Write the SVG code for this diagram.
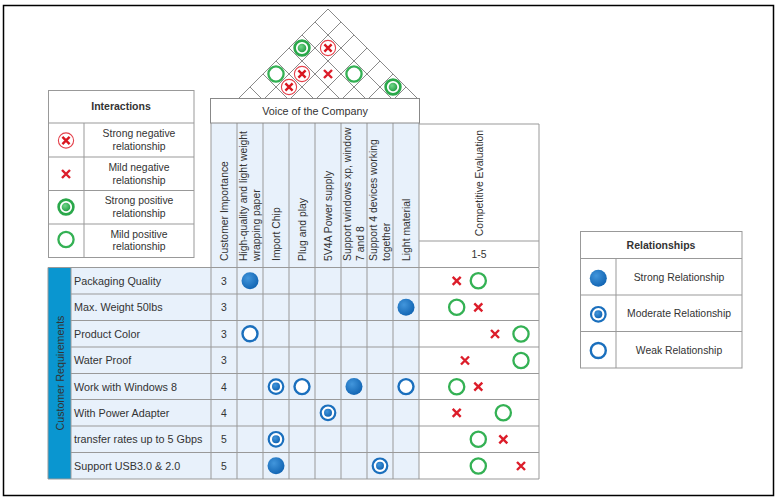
<svg xmlns="http://www.w3.org/2000/svg" width="777" height="499" viewBox="0 0 777 499">
<style>
text{font-family:"Liberation Sans",Arial,sans-serif;font-size:10.4px;fill:#333}
.b{font-weight:bold;font-size:10.5px}
.c{text-anchor:middle}
.rl{font-size:10.8px}
.g{stroke:#999;stroke-width:1;fill:none}
.rf{stroke:#8a8a8a;stroke-width:1;fill:none}
.cell{fill:#e8f1fb}
.wh{fill:#fff}
</style>
<defs>
<radialGradient id="gb" cx="0.38" cy="0.35" r="0.75"><stop offset="0" stop-color="#4296dc"/><stop offset="1" stop-color="#0c5fae"/></radialGradient>
<radialGradient id="gg" cx="0.38" cy="0.35" r="0.75"><stop offset="0" stop-color="#72d68a"/><stop offset="1" stop-color="#1c9a3e"/></radialGradient>
<g id="sRel"><circle r="8.5" fill="url(#gb)"/></g>
<g id="mRel"><circle r="7.3" fill="#fff" stroke="#1a6fbd" stroke-width="2.2"/><circle r="4" fill="url(#gb)"/></g>
<g id="wRel"><circle r="7.5" fill="#fff" stroke="#1a6fbd" stroke-width="2.4"/></g>
<g id="sPos"><circle r="7.4" fill="#fff" stroke="#2aa84a" stroke-width="2.6"/><circle r="4.3" fill="url(#gg)"/></g>
<g id="mPos"><circle r="7.6" fill="#fff" stroke="#34b154" stroke-width="2.3"/></g>
<g id="mNeg"><path d="M-4,-4L4,4M4,-4L-4,4" stroke="#dc1d2a" stroke-width="2.4" fill="none"/></g>
<g id="sNeg"><circle r="7.6" fill="#fff" stroke="#e4414b" stroke-width="1.1"/><path d="M-3.6,-3.6L3.6,3.6M3.6,-3.6L-3.6,3.6" stroke="#d9161f" stroke-width="2.4" fill="none"/></g>
</defs>

<rect id="frame" x="3.5" y="5.5" width="770" height="490" fill="#fff" stroke="#000" stroke-width="1.5"/>

<!-- Roof -->
<g id="roof">
<polygon points="237,100 328,9 419,100" fill="#fff" stroke="#8a8a8a" stroke-width="1"/>
<path class="rf" d="M263,100L341,22M289,100L354,35M315,100L367,48M341,100L380,61M367,100L393,74M393,100L406,87M263,100L250,87M289,100L263,74M315,100L276,61M341,100L289,48M367,100L302,35M393,100L315,22"/>
<use href="#sNeg" x="289" y="87"/>
<use href="#sPos" x="393" y="87"/>
<use href="#mPos" x="276" y="74"/>
<use href="#sNeg" x="302" y="74"/>
<use href="#mNeg" x="328" y="74"/>
<use href="#mPos" x="354" y="74"/>
<use href="#sPos" x="302" y="48"/>
<use href="#sNeg" x="328" y="48"/>
</g>

<!-- Column header area -->
<g id="headers">
<rect class="cell" x="211" y="123" width="208" height="144"/>
<rect class="wh" x="419" y="124" width="120" height="143"/>
<path class="g" d="M419,124H539V267M419,241H539"/>
<path class="g" d="M211,123V267M237,123V267M263,123V267M289,123V267M315,123V267M341,123V267M367,123V267M393,123V267M419,123V267"/>
<text transform="translate(228,261) rotate(-90)">Customer Importance</text>
<text transform="translate(246.5,261) rotate(-90)">High-quality and light weight</text>
<text transform="translate(259.5,261) rotate(-90)">wrapping paper</text>
<text transform="translate(280,261) rotate(-90)">Import Chip</text>
<text transform="translate(306,261) rotate(-90)">Plug and play</text>
<text transform="translate(332,261) rotate(-90)">5V4A Power supply</text>
<text transform="translate(350.5,261) rotate(-90)">Support windows xp, window</text>
<text transform="translate(363.5,261) rotate(-90)">7 and 8</text>
<text transform="translate(376.5,261) rotate(-90)">Support 4 devices working</text>
<text transform="translate(389.5,261) rotate(-90)">together</text>
<text transform="translate(410,261) rotate(-90)">Light material</text>
<text class="c" transform="translate(483,183) rotate(-90)">Competitive Evaluation</text>
<text class="c" x="479" y="258">1-5</text>
</g>

<g id="voice">
<rect x="210.5" y="98.5" width="209" height="24.5" fill="#fff" stroke="#888" stroke-width="1"/>
<text class="c" x="315" y="115" style="font-size:10.8px">Voice of the Company</text>
</g>

<!-- Main table -->
<g id="table">
<rect x="48" y="267.5" width="23" height="211.5" fill="#0a96d0"/>
<rect class="cell" x="71" y="267.5" width="348" height="211.5"/>
<rect class="wh" x="419" y="267.5" width="120" height="211.5"/>
<path class="g" d="M48,267.5H539M71,294H539M71,320.5H539M71,347H539M71,373.5H539M71,399.5H539M71,426H539M71,452.5H539M48,479H539M48,267.5V479M71,267.5V479M211,267.5V479M237,267.5V479M263,267.5V479M289,267.5V479M315,267.5V479M341,267.5V479M367,267.5V479M393,267.5V479M419,267.5V479M539,267.5V479"/>
<text class="c" transform="translate(63.5,373) rotate(-90)" style="font-size:10.6px">Customer Requirements</text>
<g class="rl">
<text class="rl" x="74" y="284.8">Packaging Quality</text>
<text class="rl" x="74" y="311.3">Max. Weight 50lbs</text>
<text class="rl" x="74" y="337.8">Product Color</text>
<text class="rl" x="74" y="364.3">Water Proof</text>
<text class="rl" x="74" y="390.5">Work with Windows 8</text>
<text class="rl" x="74" y="416.8">With Power Adapter</text>
<text class="rl" x="74" y="443.3">transfer rates up to 5 Gbps</text>
<text class="rl" x="74" y="469.8">Support USB3.0 &amp; 2.0</text>
</g>
<text class="c" x="224" y="284.8">3</text>
<text class="c" x="224" y="311.3">3</text>
<text class="c" x="224" y="337.8">3</text>
<text class="c" x="224" y="364.3">3</text>
<text class="c" x="224" y="390.5">4</text>
<text class="c" x="224" y="416.8">4</text>
<text class="c" x="224" y="443.3">5</text>
<text class="c" x="224" y="469.8">5</text>
<!-- relationships -->
<use href="#sRel" x="250" y="280.8"/>
<use href="#sRel" x="406" y="307.3"/>
<use href="#wRel" x="250" y="333.8"/>
<use href="#mRel" x="276" y="386.6"/>
<use href="#wRel" x="302" y="386.6"/>
<use href="#sRel" x="354" y="386.6"/>
<use href="#wRel" x="406" y="386.6"/>
<use href="#mRel" x="328" y="412.8"/>
<use href="#mRel" x="276" y="439.3"/>
<use href="#sRel" x="276" y="465.8"/>
<use href="#mRel" x="380" y="465.8"/>
<!-- competitive evaluation -->
<use href="#mNeg" x="456.7" y="280.8"/>
<use href="#mPos" x="478.3" y="280.8"/>
<use href="#mPos" x="456.7" y="307.3"/>
<use href="#mNeg" x="478.3" y="307.3"/>
<use href="#mNeg" x="495" y="334"/>
<use href="#mPos" x="521" y="334"/>
<use href="#mNeg" x="465" y="360.5"/>
<use href="#mPos" x="521" y="360.5"/>
<use href="#mPos" x="456.7" y="386.7"/>
<use href="#mNeg" x="478.3" y="386.7"/>
<use href="#mNeg" x="456.7" y="412.8"/>
<use href="#mPos" x="503.3" y="412.8"/>
<use href="#mPos" x="478.3" y="439.3"/>
<use href="#mNeg" x="503.3" y="439.3"/>
<use href="#mPos" x="478.3" y="466"/>
<use href="#mNeg" x="521" y="466"/>
</g>

<!-- Interactions legend -->
<g id="legend-interactions">
<rect x="48.5" y="90.5" width="145.5" height="167" fill="#fff" stroke="#999" stroke-width="1"/>
<path class="g" d="M48.5,123H194M48.5,157H194M48.5,190.5H194M48.5,224H194M84,123V257.5"/>
<text class="b c" x="121" y="110">Interactions</text>
<use href="#sNeg" x="66" y="140.5"/>
<use href="#mNeg" x="66" y="174"/>
<use href="#sPos" x="66" y="207"/>
<use href="#mPos" x="66" y="239.5"/>
<text class="c" x="139" y="137">Strong negative</text>
<text class="c" x="139" y="149.5">relationship</text>
<text class="c" x="139" y="171">Mild negative</text>
<text class="c" x="139" y="183.5">relationship</text>
<text class="c" x="139" y="204">Strong positive</text>
<text class="c" x="139" y="216.5">relationship</text>
<text class="c" x="139" y="237.5">Mild positive</text>
<text class="c" x="139" y="250">relationship</text>
</g>

<!-- Relationships legend -->
<g id="legend-relationships">
<rect x="580.5" y="231.5" width="161.5" height="136.5" fill="#fff" stroke="#999" stroke-width="1"/>
<path class="g" d="M580.5,258.5H742M580.5,295H742M580.5,331.5H742M616,258.5V368"/>
<text class="b c" x="661" y="249">Relationships</text>
<use href="#sRel" x="598.3" y="278.3"/>
<use href="#mRel" x="598.3" y="314.3"/>
<use href="#wRel" x="598.3" y="350.5"/>
<text class="c" x="679" y="280.5">Strong Relationship</text>
<text class="c" x="679" y="317">Moderate Relationship</text>
<text class="c" x="679" y="353.5">Weak Relationship</text>
</g>
</svg>
